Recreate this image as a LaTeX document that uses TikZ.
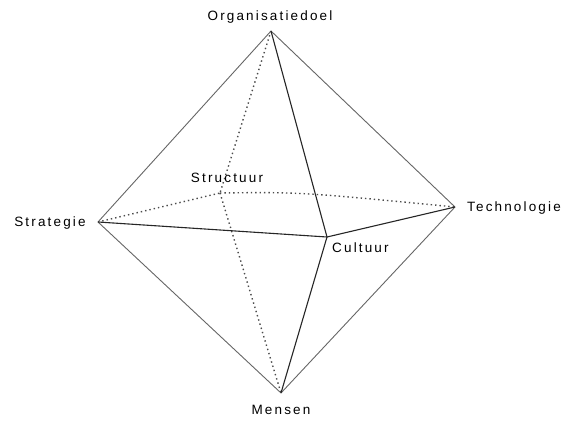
\documentclass[tikz,border=0pt]{standalone}
\usepackage{fontspec}
\setmainfont{Liberation Sans}[LetterSpace=16]
\begin{document}
\begin{tikzpicture}[x=1pt,y=-1pt,
  lbl/.style={font=\fontsize{13.5}{14}\selectfont, inner sep=0pt, text=black},
  outer/.style={draw=black!60, line width=0.9pt},
  front/.style={draw=black!85, line width=1.1pt},
  back/.style={draw=black!70, line width=1.4pt, dash pattern=on 1.4pt off 3pt}]
\useasboundingbox (0,0) rectangle (566,434);
\fill[white] (0,0) rectangle (566,434);
\coordinate (O) at (271,31);
\coordinate (S) at (98,222);
\coordinate (T) at (455,207);
\coordinate (C) at (327,237);
\coordinate (M) at (281,393);
\coordinate (B) at (220,193);
% back (hidden) edges
\draw[back] (O) -- (B);
\draw[back] (S) -- (B);
\draw[back] (B) .. controls (300,192) .. (T);
\draw[back] (B) -- (M);
% outer edges
\draw[outer] (O) -- (S);
\draw[outer] (O) -- (T);
\draw[outer] (S) -- (M);
\draw[outer] (T) -- (M);
% front edges
\draw[front] (O) -- (C);
\draw[front] (S) -- (C);
\draw[front] (C) -- (T);
\draw[front] (C) -- (M);
% labels
\node[lbl] (lo) at (270,17) {Organisatiedoel};
\node[lbl] (ls) at (50,223) {Strategie};
\node[lbl] (lt) at (514,208) {Technologie};
\node[lbl, anchor=west] (lc) at (332,248) {Cultuur};
\node[lbl] (lm) at (281,410) {Mensen};
\node[lbl] (lb) at (227,178) {Structuur};
\end{tikzpicture}
\end{document}
